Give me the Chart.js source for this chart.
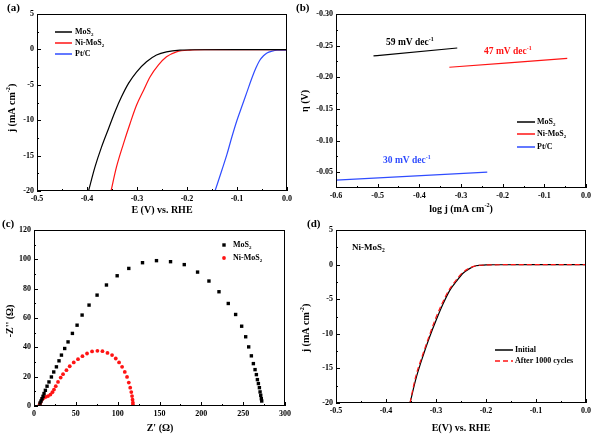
<!DOCTYPE html>
<html>
<head>
<meta charset="utf-8">
<script src="https://cdn.jsdelivr.net/npm/chart.js@4.4.1/dist/chart.umd.min.js"></script>
<style>
  body { margin: 0; background: #fff; }
  #wrap { position: relative; width: 593px; height: 434px; }
  canvas { position: absolute; }
</style>
</head>
<body>
<div id="wrap">
  <canvas id="chartA" width="293" height="215" style="left:0;top:0"></canvas>
  <canvas id="chartB" width="300" height="215" style="left:293px;top:0"></canvas>
  <canvas id="chartC" width="293" height="219" style="left:0;top:215px"></canvas>
  <canvas id="chartD" width="300" height="219" style="left:293px;top:215px"></canvas>
</div>
<script>
// tick values
const ticksE = [-0.5, -0.4, -0.3, -0.2, -0.1, 0];
const ticksJ = [-20, -15, -10, -5, 0, 5];
const ticksLogJ = [-0.6, -0.5, -0.4, -0.3, -0.2, -0.1, 0];
const ticksEta = [-0.30, -0.25, -0.20, -0.15, -0.10, -0.05];
const ticksZre = [0, 50, 100, 150, 200, 250, 300];
const ticksZim = [0, 20, 40, 60, 80, 100, 120];

// (a) LSV curves
const lsvMoS2E = [-0.397, -0.384, -0.371, -0.357, -0.344, -0.331, -0.317, -0.301, -0.281, -0.261, -0.241, -0.214, -0.18, -0.1, 0];
const lsvMoS2J = [-20, -16.6, -13.8, -11.2, -8.8, -6.7, -4.8, -3.2, -1.75, -0.8, -0.34, -0.1, -0.05, -0.04, -0.04];
const lsvNiE = [-0.352, -0.341, -0.327, -0.314, -0.301, -0.287, -0.274, -0.257, -0.241, -0.221, -0.194, -0.16, -0.1, 0];
const lsvNiJ = [-20, -16.6, -13.3, -10.5, -7.9, -5.8, -3.9, -2.2, -1.05, -0.34, -0.1, -0.05, -0.04, -0.04];
const lsvPtE = [-0.144, -0.13, -0.12, -0.11, -0.10, -0.09, -0.08, -0.07, -0.062, -0.055, -0.047, -0.04, -0.03, -0.02, 0];
const lsvPtJ = [-20, -17.0, -14.8, -12.3, -10.0, -8.0, -6.0, -4.0, -2.6, -1.6, -0.9, -0.5, -0.25, -0.12, -0.1];

// (b) Tafel fits
const tafelMoS2X = [-0.51, -0.309];
const tafelMoS2Y = [-0.2337, -0.2463];
const tafelNiX = [-0.328, -0.045];
const tafelNiY = [-0.2158, -0.230];
const tafelPtX = [-0.6, -0.237];
const tafelPtY = [-0.0374, -0.050];
const tafelSlopes = ['59 mV dec^{-1}', '47 mV dec^{-1}', '30 mV dec^{-1}'];

// (c) Nyquist plots
const eisMoS2Re = [7.2, 8.4, 9.6, 10.8, 12, 13.6, 15.6, 17.9, 20.8, 23.6, 26.8, 29.9, 32.8, 36.7, 40.7, 45.9, 51.5, 57.5, 65.8, 75.4, 86.6, 99.4, 113.3, 129.7, 146.4, 163.2, 179.6, 195.5, 209.1, 221.1, 232.2, 241, 248.2, 253, 256.6, 259.8, 262.2, 264.2, 265.8, 267, 268.2, 269.4, 270.2, 271, 271.7, 272.2];
const eisMoS2Im = [2, 3.4, 5, 6.6, 8.5, 10.7, 13.5, 16.4, 19.8, 23.2, 26.7, 30.8, 34.7, 39.2, 43.7, 49.5, 55.1, 62, 68.8, 75.6, 82.5, 88.8, 93.8, 97.7, 99.1, 98.4, 96.4, 91.3, 85.2, 77.9, 69.9, 62.4, 54.4, 47.2, 40.3, 34.2, 28.9, 24.8, 21.4, 18, 15.3, 12.5, 9.6, 7.3, 5, 3.4];
const eisNiRe = [6.8, 8, 9.6, 11.6, 14, 16.8, 19.6, 22, 23.9, 26, 28.7, 31.9, 34.7, 38.8, 42.7, 47.5, 52.6, 57.9, 63.4, 69.4, 75.8, 81.8, 87.8, 93.3, 97.7, 101.7, 105.3, 108.5, 111.2, 113.3, 115, 116.3, 117.2, 117.8, 118.2, 118.3];
const eisNiIm = [1.2, 2.7, 4.4, 5.5, 6.2, 6.8, 7.8, 9.4, 11.2, 13.5, 16.4, 19.4, 21.7, 24.4, 27.1, 29.7, 31.9, 34, 35.8, 37.2, 37.6, 37.4, 36.2, 34.7, 32.4, 29.7, 26.7, 23.2, 19.8, 16, 12.5, 9.5, 6.8, 4.3, 2.2, 0.8];

// (d) stability
const stabInitE = [-0.352, -0.339, -0.326, -0.313, -0.299, -0.286, -0.273, -0.259, -0.246, -0.233, -0.22, -0.2, -0.18, -0.1, 0];
const stabInitJ = [-20, -16.2, -13.2, -10.5, -7.9, -5.7, -3.8, -2.4, -1.25, -0.58, -0.17, -0.05, -0.02, 0, 0];
const stabAfterE = [-0.352, -0.341, -0.328, -0.315, -0.302, -0.289, -0.276, -0.262, -0.249, -0.236, -0.223, -0.205, -0.185, -0.1, 0];
const stabAfterJ = [-20, -16.3, -13.3, -10.6, -8.0, -5.8, -3.9, -2.45, -1.3, -0.62, -0.22, -0.08, -0.03, 0, 0];

const RED = '#ff1414';
const BLUE = '#2f4cff';
const FONT = '"Liberation Serif", "Times New Roman", serif';
const tickFont = { family: FONT, weight: 'bold', size: 8 };

const pairs = (xs, ys) => xs.map((x, i) => ({ x, y: ys[i] }));

function richParts(str) {
  const parts = [];
  const re = /([_^])\{([^}]*)\}/g;
  let last = 0, m;
  while ((m = re.exec(str))) {
    if (m.index > last) parts.push({ t: str.slice(last, m.index), k: 0 });
    parts.push({ t: m[2], k: m[1] === '^' ? 1 : -1 });
    last = re.lastIndex;
  }
  if (last < str.length) parts.push({ t: str.slice(last), k: 0 });
  return parts;
}

function drawRich(ctx, str, x, y, size, o) {
  const parts = richParts(str);
  const f = s => `bold ${s}px ${FONT}`;
  let w = 0;
  parts.forEach(p => { ctx.font = f(p.k ? size * 0.62 : size); p.w = ctx.measureText(p.t).width; w += p.w; });
  ctx.save();
  ctx.translate(x, y);
  if (o.rot) ctx.rotate(o.rot);
  let cx = o.align === 'center' ? -w / 2 : o.align === 'right' ? -w : 0;
  ctx.textBaseline = 'middle';
  ctx.textAlign = 'left';
  ctx.fillStyle = o.color || '#000';
  parts.forEach(p => {
    ctx.font = f(p.k ? size * 0.62 : size);
    const dy = p.k === 1 ? -size * 0.38 : p.k === -1 ? size * 0.3 : 0;
    ctx.fillText(p.t, cx, dy);
    cx += p.w;
  });
  ctx.restore();
}

// frame, inward ticks, titles and legends
const deco = {
  id: 'deco',
  afterDraw(chart, args, o) {
    const { ctx, chartArea: a } = chart;
    ctx.save();
    ctx.strokeStyle = '#000';
    ctx.lineWidth = 1;
    ctx.strokeRect(a.left + 0.5, a.top + 0.5, a.right - a.left - 1, a.bottom - a.top - 1);

    ['x', 'y'].forEach(id => {
      const s = chart.scales[id];
      const vals = s.ticks.map(t => t.value);
      const marks = vals.map(v => [v, 4]);
      for (let i = 0; i < vals.length - 1; i++) marks.push([(vals[i] + vals[i + 1]) / 2, 2]);
      marks.forEach(([v, len]) => {
        const p = Math.round(s.getPixelForValue(v)) + 0.5;
        ctx.beginPath();
        if (id === 'x') { ctx.moveTo(p, a.bottom); ctx.lineTo(p, a.bottom - len); }
        else { ctx.moveTo(a.left, p); ctx.lineTo(a.left + len, p); }
        ctx.stroke();
      });
    });

    (o.legend || []).forEach(it => {
      ctx.save();
      if (it.mark === 'line') {
        ctx.strokeStyle = it.color;
        ctx.lineWidth = 1.5;
        ctx.setLineDash(it.dash || []);
        ctx.beginPath();
        ctx.moveTo(it.x1, it.y);
        ctx.lineTo(it.x2, it.y);
        ctx.stroke();
      } else if (it.mark === 'rect') {
        ctx.fillStyle = it.color;
        ctx.fillRect(it.x1 - 1.7, it.y - 1.7, 3.4, 3.4);
      } else {
        ctx.fillStyle = it.color;
        ctx.beginPath();
        ctx.arc(it.x1, it.y, 1.9, 0, Math.PI * 2);
        ctx.fill();
      }
      ctx.restore();
      drawRich(ctx, it.text, it.tx, it.y, 8, { align: 'left' });
    });

    (o.texts || []).forEach(t => drawRich(ctx, t.text, t.x, t.y, t.size, t));
    ctx.restore();
  }
};

function fitX(h) { return s => { s.height = h; s.paddingLeft = 0; s.paddingRight = 0; }; }
function fitY(w) { return s => { s.width = w; s.paddingTop = 0; s.paddingBottom = 0; }; }

function axis(min, max, tickVals, digits, fit, extra) {
  return Object.assign({
    type: 'linear', min, max,
    afterBuildTicks: s => { s.ticks = tickVals.map(v => ({ value: v })); },
    ticks: {
      padding: 3, color: '#000', font: tickFont,
      maxRotation: 0, autoSkip: false,
      callback: v => (+v).toFixed(digits)
    },
    grid: { display: false, drawTicks: false },
    border: { display: false },
    afterFit: fit
  }, extra || {});
}

function lineSet(xs, ys, color, dash) {
  return {
    data: pairs(xs, ys), borderColor: color, borderWidth: 1.2, borderDash: dash || [],
    pointRadius: 0, cubicInterpolationMode: 'monotone', fill: false
  };
}

function baseOptions(pad, xAxis, yAxis, decoOpts) {
  return {
    responsive: false, animation: false, events: [],
    layout: { padding: pad },
    scales: { x: xAxis, y: yAxis },
    plugins: { legend: { display: false }, tooltip: { enabled: false }, deco: decoOpts }
  };
}

// (a)
new Chart(document.getElementById('chartA'), {
  type: 'line',
  data: { datasets: [
    lineSet(lsvMoS2E, lsvMoS2J, '#000'),
    lineSet(lsvNiE, lsvNiJ, RED),
    lineSet(lsvPtE, lsvPtJ, BLUE)
  ] },
  options: baseOptions({ left: 0, right: 6, top: 14, bottom: 0 },
    axis(-0.5, 0, ticksE, 1, fitX(24)),
    axis(-20, 5, ticksJ, 0, fitY(37)),
    {
      texts: [
        { text: '(a)', x: 7, y: 8, size: 11 },
        { text: 'E (V) vs. RHE', x: 162, y: 210, size: 10, align: 'center' },
        { text: 'j (mA cm^{-2})', x: 12, y: 108, size: 10, align: 'center', rot: -Math.PI / 2 }
      ],
      legend: [
        { mark: 'line', color: '#000', x1: 55, x2: 72, y: 32, tx: 75, text: 'MoS_{2}' },
        { mark: 'line', color: RED, x1: 55, x2: 72, y: 43, tx: 75, text: 'Ni-MoS_{2}' },
        { mark: 'line', color: BLUE, x1: 55, x2: 72, y: 54, tx: 75, text: 'Pt/C' }
      ]
    }),
  plugins: [deco]
});

// (b)
new Chart(document.getElementById('chartB'), {
  type: 'line',
  data: { datasets: [
    lineSet(tafelMoS2X, tafelMoS2Y, '#000'),
    lineSet(tafelNiX, tafelNiY, RED),
    lineSet(tafelPtX, tafelPtY, BLUE)
  ] },
  options: baseOptions({ left: 0, right: 7, top: 14, bottom: 0 },
    axis(-0.6, 0, ticksLogJ, 1, fitX(27)),
    axis(-0.30, -0.025, ticksEta, 2, fitY(43), { reverse: true }),
    {
      texts: [
        { text: '(b)', x: 3, y: 8, size: 11 },
        { text: 'log j (mA cm^{-2})', x: 168, y: 209, size: 10, align: 'center' },
        { text: 'η (V)', x: 12, y: 101, size: 10, align: 'center', rot: -Math.PI / 2 },
        { text: tafelSlopes[0], x: 93, y: 43, size: 9.5, color: '#000' },
        { text: tafelSlopes[1], x: 191, y: 52, size: 9.5, color: RED },
        { text: tafelSlopes[2], x: 90, y: 161, size: 9.5, color: BLUE }
      ],
      legend: [
        { mark: 'line', color: '#000', x1: 224, x2: 242, y: 122, tx: 244, text: 'MoS_{2}' },
        { mark: 'line', color: RED, x1: 224, x2: 242, y: 134, tx: 244, text: 'Ni-MoS_{2}' },
        { mark: 'line', color: BLUE, x1: 224, x2: 242, y: 147, tx: 244, text: 'Pt/C' }
      ]
    }),
  plugins: [deco]
});

// (c)
new Chart(document.getElementById('chartC'), {
  type: 'scatter',
  data: { datasets: [
    { data: pairs(eisMoS2Re, eisMoS2Im), pointStyle: 'rect', pointRadius: 2.4, backgroundColor: '#000', borderWidth: 0 },
    { data: pairs(eisNiRe, eisNiIm), pointStyle: 'circle', pointRadius: 1.9, backgroundColor: RED, borderWidth: 0 }
  ] },
  options: baseOptions({ left: 0, right: 8, top: 15, bottom: 0 },
    axis(0, 300, ticksZre, 0, fitX(28)),
    axis(0, 120, ticksZim, 0, fitY(34)),
    {
      texts: [
        { text: '(c)', x: 2, y: 9, size: 11 },
        { text: "Z' (Ω)", x: 160, y: 213, size: 10, align: 'center' },
        { text: "-Z'' (Ω)", x: 10, y: 106, size: 10, align: 'center', rot: -Math.PI / 2 }
      ],
      legend: [
        { mark: 'rect', color: '#000', x1: 224, y: 30, tx: 233, text: 'MoS_{2}' },
        { mark: 'circle', color: RED, x1: 224, y: 43, tx: 233, text: 'Ni-MoS_{2}' }
      ]
    }),
  plugins: [deco]
});

// (d)
new Chart(document.getElementById('chartD'), {
  type: 'line',
  data: { datasets: [
    Object.assign(lineSet(stabAfterE, stabAfterJ, RED, [5, 3]), { order: 0 }),
    Object.assign(lineSet(stabInitE, stabInitJ, '#000'), { order: 1 })
  ] },
  options: baseOptions({ left: 0, right: 7, top: 15, bottom: 0 },
    axis(-0.5, 0, ticksE, 1, fitX(31)),
    axis(-20, 5, ticksJ, 0, fitY(43)),
    {
      texts: [
        { text: '(d)', x: 14, y: 9, size: 11 },
        { text: 'Ni-MoS_{2}', x: 59, y: 33, size: 9 },
        { text: 'E(V) vs. RHE', x: 168, y: 213, size: 10, align: 'center' },
        { text: 'j (mA cm^{-2})', x: 13, y: 113, size: 10, align: 'center', rot: -Math.PI / 2 }
      ],
      legend: [
        { mark: 'line', color: '#000', x1: 202, x2: 220, y: 135, tx: 222, text: 'Initial' },
        { mark: 'line', color: RED, dash: [5, 3], x1: 202, x2: 220, y: 146, tx: 222, text: 'After 1000 cycles' }
      ]
    }),
  plugins: [deco]
});
</script>
</body>
</html>
